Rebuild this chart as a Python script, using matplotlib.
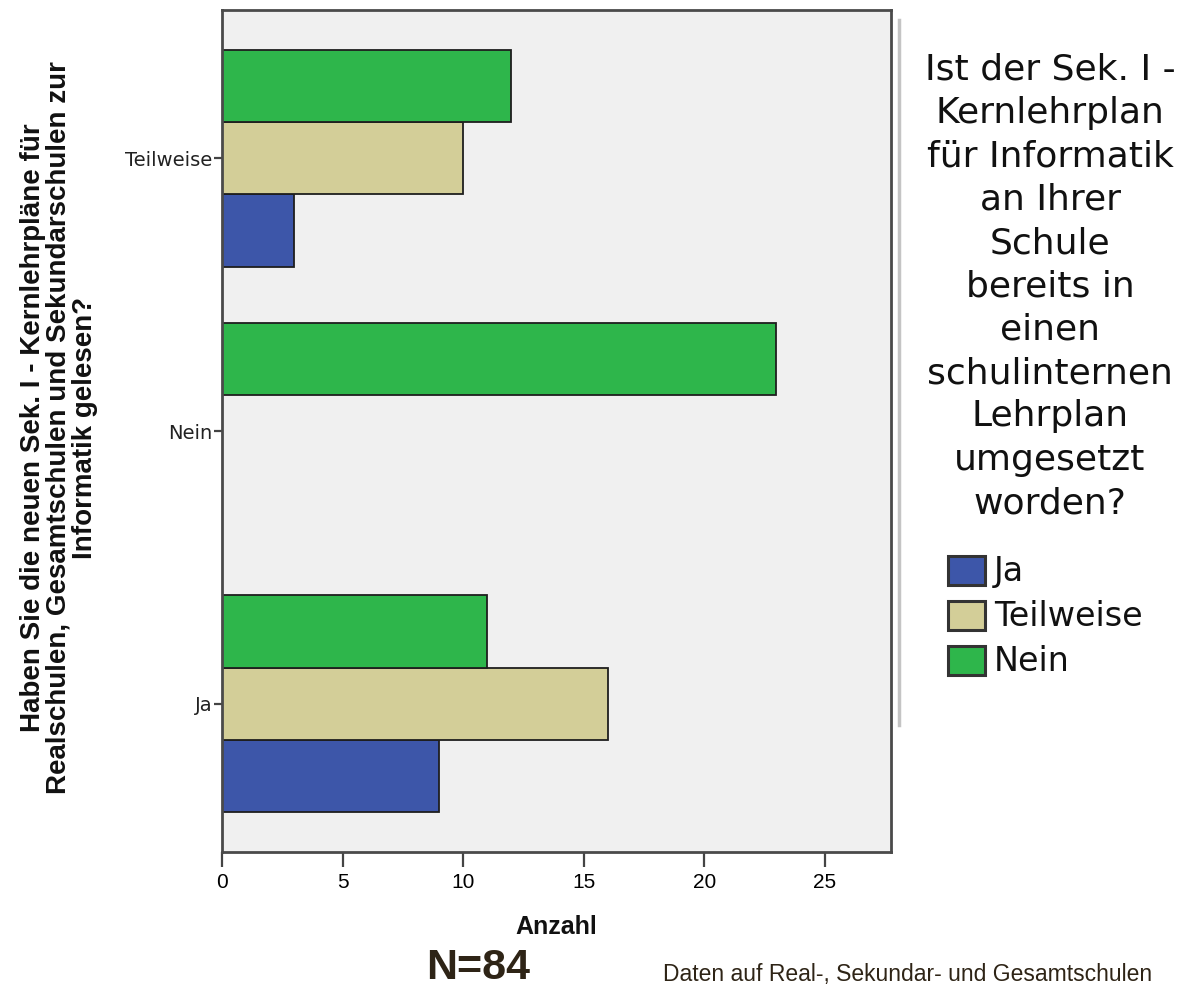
import matplotlib.pyplot as plt
from matplotlib.patches import Rectangle
from matplotlib.lines import Line2D
import numpy as np

# answers to "Haben Sie die neuen ... gelesen?"  (y axis)
groups = ["Ja", "Nein", "Teilweise"]
# counts for "Ist der Kernlehrplan ... umgesetzt worden?"  (colour)
ja = [9, 0, 3]
teilweise = [16, 0, 10]
nein = [11, 23, 12]

series_names = ["Ja", "Teilweise", "Nein"]
series_colors = ["#3d56a9", "#d3ce98", "#2eb64b"]

legend_title = ["Ist der Sek. I -", "Kernlehrplan", "für Informatik", "an Ihrer",
                "Schule", "bereits in", "einen", "schulinternen", "Lehrplan",
                "umgesetzt", "worden?"]

W, H = 1188, 988
fig = plt.figure(figsize=(W/100, H/100), dpi=100)

ax = fig.add_axes([222/W, 1-852/H, (891-222)/W, (852-10)/H])
ax.set_facecolor("#f0f0f0")

y = np.arange(len(groups))
bh = 0.265
for i, (vals, col) in enumerate(zip([ja, teilweise, nein], series_colors)):
    ax.barh(y + (i-1)*bh, vals, height=bh, color=col, edgecolor="#1e1e1e", linewidth=1.3)

ax.set_xlim(0, 27.75)
ax.set_ylim(-0.544, 2.544)
ax.set_xticks([0, 5, 10, 15, 20, 25])
ax.set_yticks(y)
ax.set_yticklabels(groups, fontsize=14, family="DejaVu Sans", color="#222222")
for lab in ax.get_xticklabels():
    lab.set_family(["Liberation Sans Narrow", "Liberation Sans"])
    lab.set_fontsize(15)
ax.tick_params(axis="x", length=11, width=1.6, color="#444444", pad=4)
ax.tick_params(axis="y", length=6, width=1.6, color="#444444", pad=1)
for sp in ax.spines.values():
    sp.set_color("#4a4a4a")
    sp.set_linewidth(2)

ax.set_xlabel("Anzahl", fontsize=18, fontweight="bold", family="Liberation Sans",
              labelpad=17, color="#111111")

fig.text(59/W, 1-428/H,
         "Haben Sie die neuen Sek. I - Kernlehrpläne für\n"
         "Realschulen, Gesamtschulen und Sekundarschulen zur\n"
         "Informatik gelesen?",
         rotation=90, ha="center", va="center", multialignment="center",
         fontsize=20, fontweight="bold", family="Liberation Sans",
         linespacing=1.0, color="#111111")

# grey separator line
fig.add_artist(Line2D([899/W, 899/W], [1-20/H, 1-725/H], color="#c4c4c4", linewidth=2.5))

# legend title
for i, line in enumerate(legend_title):
    fig.text(1050/W, 1-(70 + i*43.3)/H, line, ha="center", va="center",
             fontsize=26, family="DejaVu Sans", color="#111111")

# legend entries
for i, (name, col) in enumerate(zip(series_names, series_colors)):
    yc = 571 + i*45
    fig.add_artist(Rectangle((948/W, 1-(yc+14)/H), 37/W, 29/H, transform=fig.transFigure,
                             facecolor=col, edgecolor="#333333", linewidth=2.2))
    fig.text(994/W, 1-yc/H, name, ha="left", va="center", fontsize=24,
             family="DejaVu Sans", color="#111111")

fig.text(478/W, 1-968/H, "N=84", ha="center", va="center", fontsize=31,
         fontweight="bold", family=["Liberation Sans Narrow", "Liberation Sans"],
         color="#2e2416")
fig.text(663/W, 1-981/H, "Daten auf Real-, Sekundar- und Gesamtschulen", ha="left",
         va="baseline", fontsize=16.5, family="Liberation Sans", color="#2e2416")

fig.savefig("out.png", dpi=100)
